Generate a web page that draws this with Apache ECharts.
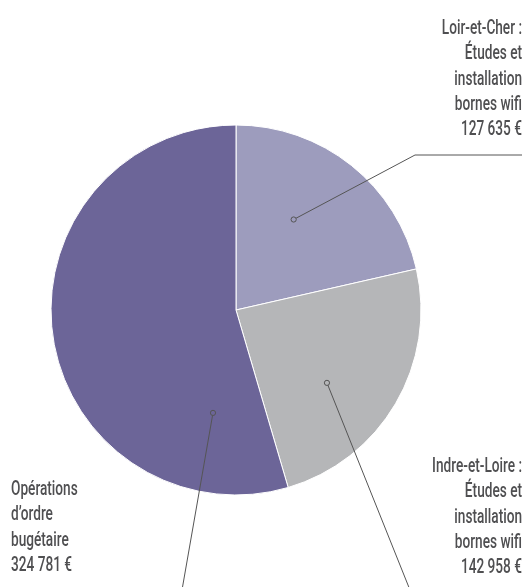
<!DOCTYPE html>
<html><head><meta charset="utf-8">
<script src="https://cdn.jsdelivr.net/npm/echarts@6/dist/echarts.min.js"></script>
<style>html,body{margin:0;padding:0;background:#fff}#c{width:527px;height:587px}</style>
</head><body><div id="c"></div>
<script>
const categories = ['Loir-et-Cher', 'Indre-et-Loire', 'Opérations d’ordre bugétaire'];
const values = [127635, 142958, 324781];
const labelTexts = [
  ['Loir-et-Cher :', 'Études et', 'installation', 'bornes wifi', '127 635 €'],
  ['Indre-et-Loire :', 'Études et', 'installation', 'bornes wifi', '142 958 €'],
  ['Opérations', 'd’ordre', 'bugétaire', '324 781 €']
];
const colors = ['#9d9cbd', '#b5b6b8', '#6c6598'];

const CX = 236, CY = 310, R = 185;
// annotation anchors (angle clockwise from top in degrees, radius fraction)
const anchors = [[32.5, 0.58], [128.7, 0.63], [192.6, 0.57]];
const leaderTails = [[[415, 155], [522, 155]], [[410, 590]], [[182, 590]]];
const labelPos = [
  {x: 522, y: 16, align: 'right'},
  {x: 522, y: 454, align: 'right'},
  {x: 11, y: 477, align: 'left'}
];
const FONT = 'Roboto, "DejaVu Sans", sans-serif';
const TXT = '#4f4f51';

const chart = echarts.init(document.getElementById('c'));
const graphics = [];
anchors.forEach((a, i) => {
  const ang = a[0] * Math.PI / 180;
  const px = CX + Math.sin(ang) * R * a[1];
  const py = CY - Math.cos(ang) * R * a[1];
  const pts = [[px, py]].concat(leaderTails[i]);
  graphics.push({type: 'polyline', shape: {points: pts}, style: {stroke: '#555', lineWidth: 1, fill: null}, z: 10});
  graphics.push({type: 'circle', shape: {cx: px, cy: py, r: 2.6}, style: {stroke: '#555', lineWidth: 1, fill: colors[i]}, z: 11});
  const lp = labelPos[i];
  graphics.push({type: 'text', x: lp.x, y: lp.y, scaleX: 0.65, z: 12,
    style: {text: labelTexts[i].join('\n'), font: '500 21px ' + FONT, fill: TXT, align: lp.align, verticalAlign: 'top', lineHeight: 25.3}});
});

chart.setOption({
  animation: false,
  graphic: graphics,
  series: [{
    type: 'pie',
    center: [CX, CY],
    radius: R,
    startAngle: 90,
    clockwise: true,
    label: {show: false},
    labelLine: {show: false},
    itemStyle: {borderColor: '#fff', borderWidth: 1},
    data: categories.map((c, i) => ({name: c, value: values[i], itemStyle: {color: colors[i]}}))
  }]
});
</script></body></html>
